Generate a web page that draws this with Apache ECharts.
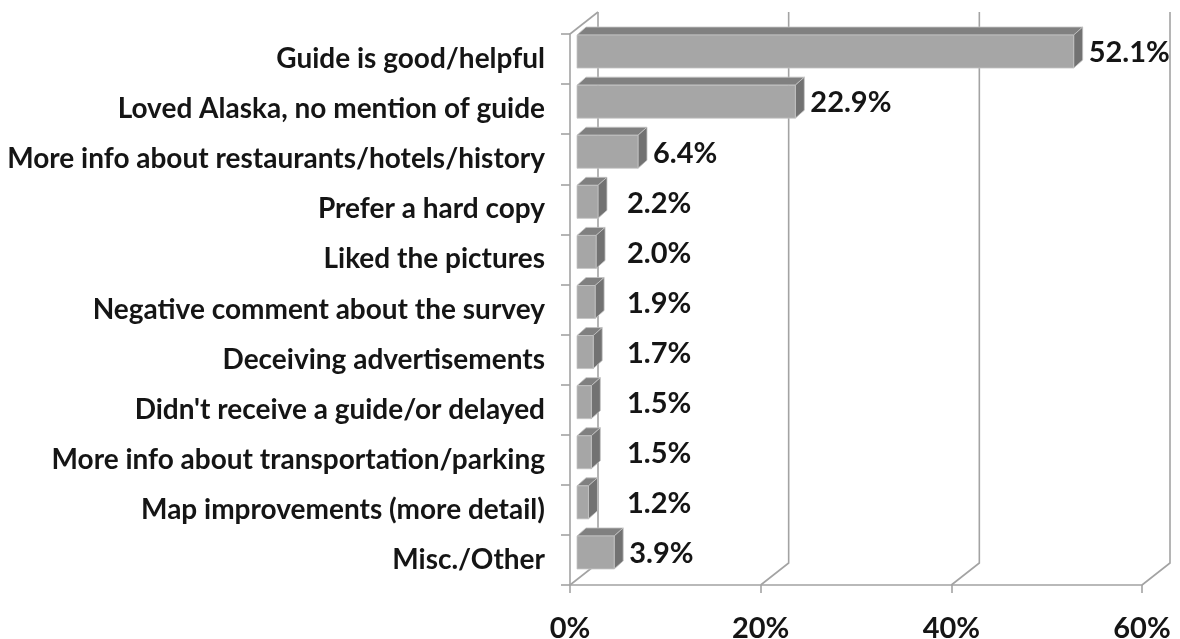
<!DOCTYPE html>
<html>
<head>
<meta charset="utf-8">
<script src="https://cdn.jsdelivr.net/npm/echarts@6/dist/echarts.min.js"></script>
<style>
  html, body { margin: 0; padding: 0; background: #ffffff; }
  #chart { width: 1180px; height: 639px; }
</style>
</head>
<body>
<div id="chart"></div>
<script>
// Survey comment categories and their share of responses (%)
const categories = [
  'Guide is good/helpful',
  'Loved Alaska, no mention of guide',
  'More info about restaurants/hotels/history',
  'Prefer a hard copy',
  'Liked the pictures',
  'Negative comment about the survey',
  'Deceiving advertisements',
  "Didn't receive a guide/or delayed",
  'More info about transportation/parking',
  'Map improvements (more detail)',
  'Misc./Other'
];
const shares = [52.1, 22.9, 6.4, 2.2, 2.0, 1.9, 1.7, 1.5, 1.5, 1.2, 3.9];
const axisTicks = [0, 20, 40, 60];

const FONT = 'Lato, "Open Sans", sans-serif';
const TEXT = '#151515';
const WALL = '#a3a3a3';

// depth of the 3D box (back wall offset) and of each bar
const WALL_DX = 28, WALL_DY = -22;
const BAR_DX = 9, BAR_DY = -8;
const BAR_SHIFT = 7;

const chart = echarts.init(document.getElementById('chart'), null, { renderer: 'canvas' });

function wallItem(params, api) {
  const cs = params.coordSys;
  const t = api.value(0);
  const X = api.coord([t, 0])[0];
  const top = cs.y, bot = cs.y + cs.height;
  const style = { stroke: WALL, lineWidth: 1.6, fill: null };
  const children = [
    { type: 'polyline', shape: { points: [[X + WALL_DX, top + WALL_DY], [X + WALL_DX, bot + WALL_DY], [X, bot]] }, style }
  ];
  if (t === 0) {
    children.push({ type: 'line', shape: { x1: X, y1: top, x2: X + WALL_DX, y2: top + WALL_DY }, style });
  }
  return { type: 'group', children };
}

function barItem(params, api) {
  const v = api.value(0);
  const idx = api.value(1);
  const p0 = api.coord([0, idx]);
  const p1 = api.coord([v, idx]);
  const cy = p0[1];
  const x0 = p0[0] + BAR_SHIFT;
  const x1 = p1[0] + BAR_SHIFT;
  const yt = cy - 24, yb = cy + 9;
  const edge = { stroke: '#c4c4c4', lineWidth: 0.8 };
  const labelX = Math.max(x1 + BAR_DX + 6, 627);
  return {
    type: 'group',
    children: [
      { type: 'polygon', shape: { points: [[x0, yt], [x1, yt], [x1 + BAR_DX, yt + BAR_DY], [x0 + BAR_DX, yt + BAR_DY]] },
        style: Object.assign({ fill: '#808080' }, edge) },
      { type: 'polygon', shape: { points: [[x1, yt], [x1 + BAR_DX, yt + BAR_DY], [x1 + BAR_DX, yb + BAR_DY], [x1, yb]] },
        style: Object.assign({ fill: '#727272' }, edge) },
      { type: 'rect', shape: { x: x0, y: yt, width: x1 - x0, height: yb - yt },
        style: Object.assign({ fill: '#a6a6a6' }, edge) },
      { type: 'text', x: labelX, y: cy - 6,
        style: { text: v.toFixed(1) + '%', fill: TEXT, font: 'bold 29px ' + FONT, align: 'left', verticalAlign: 'middle' } }
    ]
  };
}

chart.setOption({
  animation: false,
  backgroundColor: '#ffffff',
  grid: { left: 570, right: 38, top: 34, bottom: 54, containLabel: false, outerBoundsMode: 'none' },
  xAxis: {
    type: 'value', min: 0, max: 60, interval: 20,
    axisLine: { show: true, lineStyle: { color: WALL, width: 1.6 } },
    axisTick: { show: true, length: 8, lineStyle: { color: WALL, width: 1.6 } },
    splitLine: { show: false },
    axisLabel: { formatter: '{value}%', margin: 29, color: TEXT, fontFamily: FONT, fontWeight: 'bold', fontSize: 29 }
  },
  yAxis: {
    type: 'category', data: categories, inverse: true,
    axisLine: { show: true, lineStyle: { color: WALL, width: 1.6 } },
    axisTick: { show: true, length: 9, lineStyle: { color: WALL, width: 1.6 } },
    axisLabel: { margin: 25, color: TEXT, fontFamily: FONT, fontWeight: 'bold', fontSize: 28 }
  },
  series: [
    { type: 'custom', name: 'walls', data: axisTicks.map(t => [t]), renderItem: wallItem, z: 1, silent: true, clip: false },
    { type: 'custom', name: 'shares', data: shares.map((v, i) => [v, i]), renderItem: barItem, z: 3, silent: true, clip: false }
  ]
});
</script>
</body>
</html>
